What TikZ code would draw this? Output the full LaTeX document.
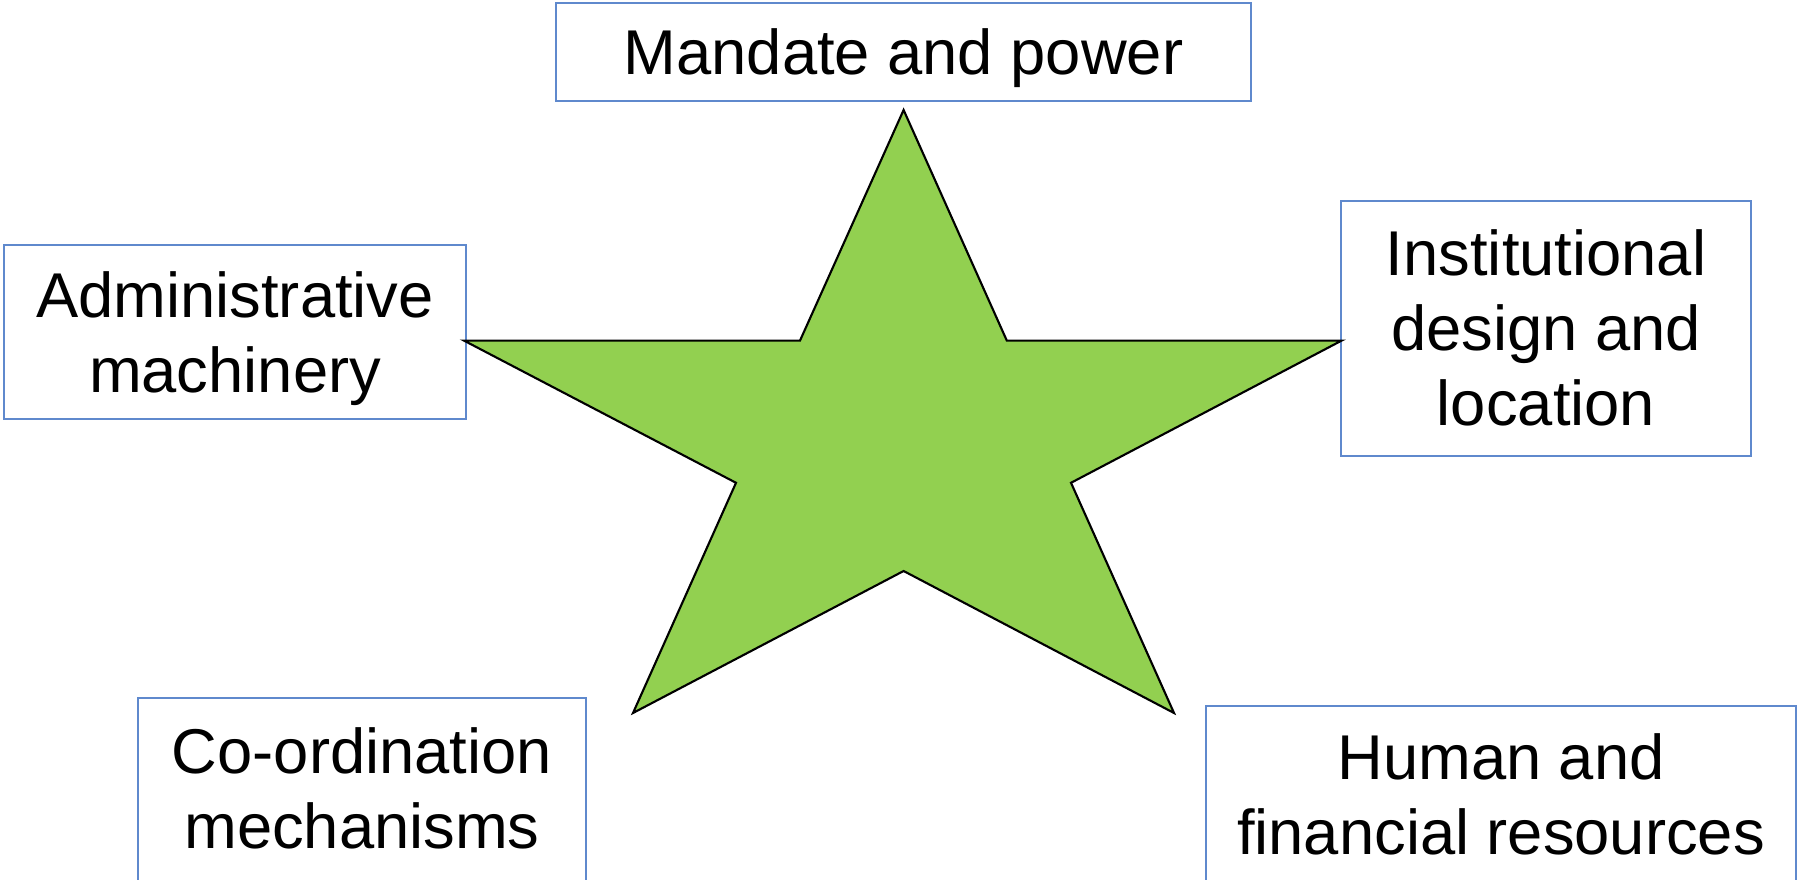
\documentclass[tikz,border=0pt]{standalone}
\usepackage{fontspec}
\setmainfont{Liberation Sans}
\definecolor{boxblue}{HTML}{5F89CD}
\definecolor{stargreen}{HTML}{92D050}
\tikzset{factor/.style={draw=boxblue,line width=0.6pt,fill=white,inner sep=0pt},
  factortext/.style={align=center,inner sep=0pt,font=\fontsize{18}{21.3}\selectfont}}

\begin{document}
\begin{tikzpicture}[x=0.01cm,y=-0.01cm]
\clip (0,0) rectangle (1798,880);
\fill[white] (0,0) rectangle (1798,880);
\node[factor,minimum width=6.95cm,minimum height=0.976cm] (mandate) at (903.5,52){};\node[factortext] (mandate-t) at (903.5,58){Mandate and power};
\node[factor,minimum width=4.61cm,minimum height=1.747cm] (admin) at (235,332){};\node[factortext] (admin-t) at (235,339){Administrative\\machinery};
\node[factor,minimum width=4.094cm,minimum height=2.557cm] (inst) at (1546,328.5){};\node[factortext] (inst-t) at (1546,327.5){Institutional\\design and\\location};
\node[factor,minimum width=4.473cm,minimum height=1.9cm] (coord) at (362,793){};\node[factortext] (coord-t) at (362,788){Co-ordination\\mechanisms};
\node[factor,minimum width=5.9cm,minimum height=1.9cm] (human) at (1501,801){};\node[factortext] (human-t) at (1501,794){Human and\\financial resources};

\draw[fill=stargreen,line width=0.6pt] (903.6,110)--(1006.8,340.6)--(1341.6,340.6)--(1071,482.8)--(1174,713)--(903.6,571)--(633,713)--(736,482.8)--(464,340.6)--(800,340.6)--cycle;
\end{tikzpicture}
\end{document}
